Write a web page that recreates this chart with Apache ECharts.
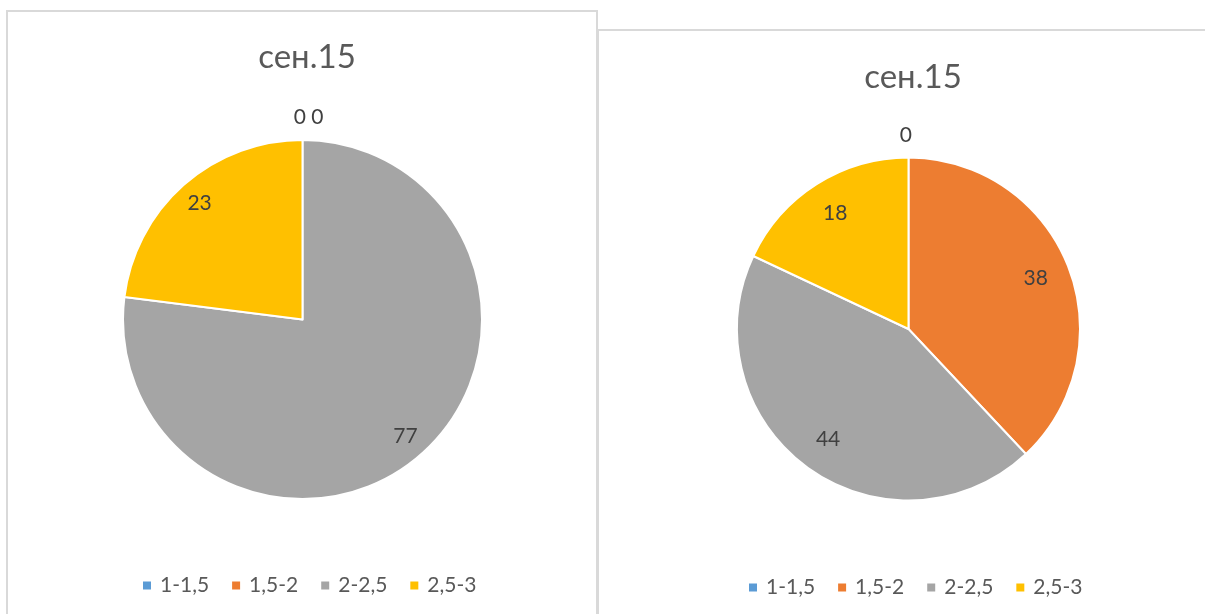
<!DOCTYPE html>
<html>
<head>
<meta charset="utf-8">
<script src="https://cdn.jsdelivr.net/npm/echarts@6/dist/echarts.min.js"></script>
<style>
html,body{margin:0;padding:0;background:#fff;}
#chart{width:1205px;height:614px;}
</style>
</head>
<body>
<div id="chart"></div>
<script>
const categories = ['1-1,5', '1,5-2', '2-2,5', '2,5-3'];
const leftTitle = 'сен.15';
const rightTitle = 'сен.15';
const leftValues = [0, 0, 77, 23];
const rightValues = [0, 38, 44, 18];
const colors = ['#5B9BD5', '#ED7D31', '#A5A5A5', '#FFC000'];

const FONT = 'Lato';
const toData = vals => categories.map((c, i) => ({ name: c, value: vals[i] }));

function pieGroup(vals, center, r, labelRatio) {
  const data = toData(vals);
  const main = {
    type: 'pie', center: center, radius: [0, r], startAngle: 90, clockwise: true,
    data: data, label: { show: false }, labelLine: { show: false },
    itemStyle: { borderColor: '#fff', borderWidth: 2 },
    emphasis: { disabled: true }, animation: false
  };
  const w = r * (1 - labelRatio);
  const nonzero = {
    type: 'pie', center: center, radius: [r - 2 * w, r], startAngle: 90, clockwise: true,
    data: data, silent: true, z: 3,
    itemStyle: { color: 'transparent', borderWidth: 0 },
    label: { show: true, position: 'inside', color: '#404040', fontFamily: FONT, fontSize: 21,
      formatter: p => p.value === 0 ? '' : String(p.value) },
    labelLine: { show: false }, emphasis: { disabled: true }, animation: false
  };
  const zero = {
    type: 'pie', center: center, radius: [r, r * 1.22], startAngle: 90, clockwise: true,
    data: data, silent: true, z: 3,
    itemStyle: { color: 'transparent', borderWidth: 0 },
    label: { show: true, position: 'inside', color: '#404040', fontFamily: FONT, fontSize: 21,
      formatter: p => p.value === 0 ? '0\u00a0' : '' },
    labelLayout: { moveOverlap: 'shiftX' },
    labelLine: { show: false }, emphasis: { disabled: true }, animation: false
  };
  return [main, nonzero, zero];
}

const legendBase = {
  data: categories, icon: 'rect', itemWidth: 10, itemHeight: 10, itemGap: 21,
  textStyle: { color: '#595959', fontFamily: FONT, fontSize: 21, padding: [0, 0, 0, 3] },
  selectedMode: false
};

const option = {
  color: colors,
  animation: false,
  graphic: [
    { type: 'rect', shape: { x: 7, y: 11, width: 590, height: 640 }, style: { fill: '#fff', stroke: '#d9d9d9', lineWidth: 2 }, z: -10 },
    { type: 'rect', shape: { x: 598, y: 30, width: 640, height: 640 }, style: { fill: '#fff', stroke: '#d9d9d9', lineWidth: 2 }, z: -10 }
  ],
  title: [
    { text: leftTitle, left: 302, top: 36, textAlign: 'center', textStyle: { color: '#595959', fontFamily: FONT, fontSize: 33, fontWeight: 'normal' } },
    { text: rightTitle, left: 908, top: 56, textAlign: 'center', textStyle: { color: '#595959', fontFamily: FONT, fontSize: 33, fontWeight: 'normal' } }
  ],
  legend: [
    Object.assign({}, legendBase, { left: 136, top: 570 }),
    Object.assign({}, legendBase, { left: 742, top: 572 })
  ],
  series: [
    ...pieGroup(leftValues, [302.5, 319.5], 179.5, 0.85),
    ...pieGroup(rightValues, [908.5, 329], 171.5, 0.78)
  ]
};

const chart = echarts.init(document.getElementById('chart'), null, { renderer: 'canvas' });
chart.setOption(option);
</script>
</body>
</html>
